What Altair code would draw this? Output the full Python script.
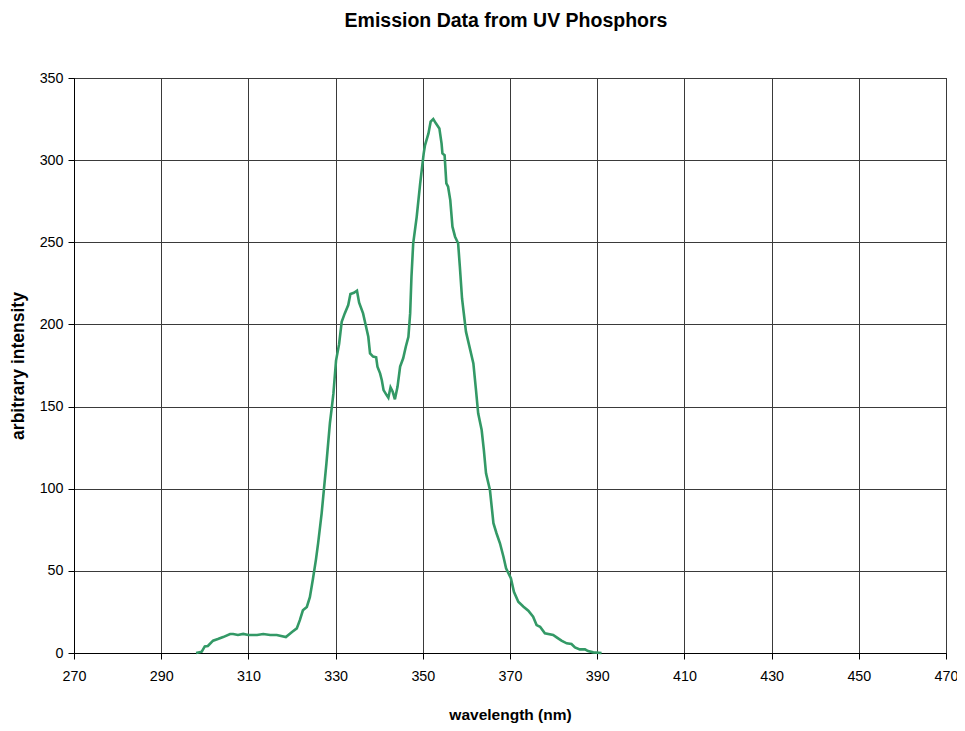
import altair as alt
import pandas as pd

wavelength = [
    298, 299.3, 300, 300.7, 301.9, 303, 304.2, 305.8, 306.5, 307.6, 308.8, 310, 312,
    313.4, 315, 316.5, 318.6, 320, 321.1, 321.8, 322.5, 323.4, 324.1, 324.8, 325.5,
    326, 326.8, 327.3, 327.9, 328.7, 329.2, 329.5, 330.1, 330.8, 331.4, 332.1, 332.9,
    333.4, 334.2, 334.9, 335.4, 336.3, 336.9, 337.5, 337.9, 338.6, 339.3, 339.6,
    340.2, 340.6, 341, 341.7, 342.1, 342.6, 343.1, 343.6, 344.2, 344.8, 345.5, 346.1,
    346.7, 347.1, 347.4, 347.8, 348.6, 349.4, 350.2, 350.5, 351.3, 351.8, 352.4, 353,
    353.8, 354.3, 354.5, 355, 355.4, 355.8, 356.3, 356.8, 357.4, 358.1, 358.5, 359,
    359.4, 359.9, 360.7, 361.6, 362.2, 362.7, 363.5, 364, 364.5, 365.4, 366.2, 366.9,
    367.7, 368.5, 369.1, 370.2, 370.9, 371.9, 373.1, 374.2, 375.3, 376.1, 376.9, 378,
    379.9, 380.7, 381.8, 383, 384.1, 384.9, 386, 387.2, 387.9, 389.1, 391,
]
intensity = [
    0, 0.8, 4, 4.3, 7.5, 8.5, 9.7, 11.6, 11.6, 11, 11.6, 11, 11,
    11.6, 11, 11, 9.7, 12.8, 15, 20, 26, 28, 34, 45, 57,
    67, 85, 99, 115.6, 140, 151, 158, 178, 188, 201.6, 206.7, 211.8,
    218.5, 219.3, 220.5, 213.2, 206.7, 199.6, 192.5, 182.4, 180.4, 180, 174.3,
    170.2, 166, 160, 157, 155.4, 161.7, 159, 154.4, 162, 174.3, 179.4, 186.4,
    192.5, 206.7, 229, 249.4, 265.5, 285.9, 304, 309, 316.3, 323.4, 325, 322.4,
    319.3, 310.2, 304.1, 303, 285.9, 283.8, 275.7, 259.5, 253.4, 249.4, 235.1, 215.8,
    206.8, 195.6, 186.5, 176.3, 160, 145.9, 135.7, 123.6, 109.4, 99.2, 79, 72.9,
    66.8, 58.6, 51.5, 45.5, 37.3, 31.2, 28.2, 25.7, 22.1, 17, 16, 12,
    11, 9.5, 7.5, 5.9, 5.5, 3.4, 2.2, 2.2, 1.2, 0.4, 0,
]

x_ticks = list(range(270, 471, 20))
y_ticks = list(range(0, 351, 50))

df = pd.DataFrame({"wavelength": wavelength, "intensity": intensity})

FONT = "Liberation Sans"

chart = (
    alt.Chart(df)
    .mark_line(color="#339966", strokeWidth=2.6)
    .encode(
        x=alt.X(
            "wavelength:Q",
            scale=alt.Scale(domain=[270, 470], nice=False, zero=False),
            axis=alt.Axis(
                values=x_ticks,
                title="wavelength (nm)",
                titleX=436,
                titleY=66,
                titleBaseline="alphabetic",
                titleAlign="center",
                titleFontSize=15.5,
                labelPadding=10,
                labelFlush=False,
            ),
        ),
        y=alt.Y(
            "intensity:Q",
            scale=alt.Scale(domain=[0, 350], nice=False),
            axis=alt.Axis(
                values=y_ticks,
                title="arbitrary intensity",
                titleX=-56,
                titleY=287.5,
                titleAngle=-90,
                titleBaseline="middle",
                titleAlign="center",
                titleFontSize=17.5,
                labelPadding=5,
            ),
        ),
        order="wavelength:Q",
    )
    .properties(
        width=872,
        height=575,
        autosize=alt.AutoSizeParams(type="none"),
        padding={"left": 66, "top": 70, "right": 11, "bottom": 70},
        title=alt.TitleParams(
            "Emission Data from UV Phosphors",
            font=FONT,
            fontSize=19.5,
            fontWeight="bold",
            color="black",
            anchor="middle",
            offset=40,
            dx=-4,
        ),
    )
    .configure_view(stroke="black", strokeWidth=1)
    .configure_axis(
        labelFont=FONT,
        labelFontSize=14.3,
        labelColor="black",
        titleFont=FONT,
        titleFontWeight="bold",
        titleColor="black",
        grid=True,
        gridColor="#3a3a3a",
        gridWidth=1,
        gridOpacity=1,
        domainColor="black",
        tickColor="black",
        tickSize=6,
    )
)

chart.save("out.html", embed_options={"renderer": "svg", "actions": False})
